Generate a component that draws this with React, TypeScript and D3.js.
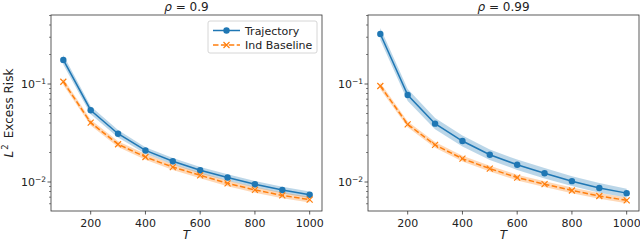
import { useEffect, useRef } from "react";
import * as d3 from "d3";

const T = [100, 200, 300, 400, 500, 600, 700, 800, 900, 1000];
const xTicks = [200, 400, 600, 800, 1000];
const titles = ["0.9", "0.99"];

// rho = 0.9
const traj09 = [0.176, 0.054, 0.0311, 0.021, 0.0163, 0.0132, 0.0111, 0.0095, 0.0083, 0.0074];
const ind09 = [0.1055, 0.0403, 0.0243, 0.018, 0.0142, 0.0117, 0.0097, 0.0083, 0.0073, 0.0066];
// rho = 0.99
const traj099 = [0.324, 0.0772, 0.0394, 0.0262, 0.019, 0.015, 0.0123, 0.0102, 0.0087, 0.0077];
const ind099 = [0.0954, 0.0388, 0.0239, 0.0173, 0.0137, 0.0111, 0.0095, 0.0082, 0.0072, 0.0065];

// multiplicative half-width of the shaded bands
const trajSpread09 = [1.12, 1.1, 1.09, 1.08, 1.08, 1.08, 1.08, 1.08, 1.08, 1.08];
const indSpread09 = [1.08, 1.07, 1.07, 1.07, 1.07, 1.07, 1.07, 1.07, 1.07, 1.07];
const trajSpread099 = [1.15, 1.15, 1.14, 1.14, 1.13, 1.13, 1.13, 1.12, 1.12, 1.11];
const indSpread099 = [1.08, 1.07, 1.07, 1.07, 1.07, 1.07, 1.07, 1.07, 1.07, 1.07];

const panels = [
  { title: titles[0], traj: traj09, ind: ind09, ts: trajSpread09, is: indSpread09 },
  { title: titles[1], traj: traj099, ind: ind099, ts: trajSpread099, is: indSpread099 },
];

const BLUE = "#1f77b4";
const ORANGE = "#ff7f0e";
const FONT = "DejaVu Sans, sans-serif";

const App = () => {
  const svgRef = useRef<SVGSVGElement>(null);

  useEffect(() => {
    const svg = d3.select(svgRef.current);
    svg.selectAll("*").remove();
    const width = 640;
    const height = 242;
    const top = 15;
    const bottom = 211;
    const lefts = [51, 368];
    const axW = 271;

    svg.append("rect").attr("width", width).attr("height", height).attr("fill", "#fff");

    panels.forEach((p, pi) => {
      const x0 = lefts[pi];
      const x = d3.scaleLinear().domain([55, 1045]).range([x0, x0 + axW]);
      const y = d3.scaleLog().domain([0.00506, 0.506]).range([bottom, top]);
      const g = svg.append("g");

      // bands
      const band = (vals: number[], spread: number[], color: string) => {
        const area = d3
          .area<number>()
          .x((_, i) => x(T[i]))
          .y0((d, i) => y(d / spread[i]))
          .y1((d, i) => y(d * spread[i]));
        g.append("path").datum(vals).attr("d", area).attr("fill", color).attr("opacity", 0.3);
      };
      band(p.traj, p.ts, BLUE);
      band(p.ind, p.is, ORANGE);

      const line = d3
        .line<number>()
        .x((_, i) => x(T[i]))
        .y((d) => y(d));

      g.append("path")
        .datum(p.traj)
        .attr("d", line)
        .attr("fill", "none")
        .attr("stroke", BLUE)
        .attr("stroke-width", 1.5);
      g.selectAll(".dot")
        .data(p.traj)
        .enter()
        .append("circle")
        .attr("cx", (_, i) => x(T[i]))
        .attr("cy", (d) => y(d))
        .attr("r", 3.2)
        .attr("fill", BLUE);

      g.append("path")
        .datum(p.ind)
        .attr("d", line)
        .attr("fill", "none")
        .attr("stroke", ORANGE)
        .attr("stroke-width", 1.5)
        .attr("stroke-dasharray", "5.5,2.4");
      const s = 3;
      p.ind.forEach((d, i) => {
        const cx = x(T[i]);
        const cy = y(d);
        g.append("path")
          .attr("d", `M${cx - s},${cy - s}L${cx + s},${cy + s}M${cx - s},${cy + s}L${cx + s},${cy - s}`)
          .attr("stroke", ORANGE)
          .attr("stroke-width", 1.2);
      });

      // x axis
      const xa = g.append("g").attr("font-family", FONT).attr("font-size", 11);
      xTicks.forEach((t) => {
        xa.append("line")
          .attr("x1", x(t)).attr("x2", x(t))
          .attr("y1", bottom).attr("y2", bottom + 3.5)
          .attr("stroke", "#333").attr("stroke-width", 0.8);
        xa.append("text")
          .attr("x", x(t)).attr("y", bottom + 16)
          .attr("text-anchor", "middle").attr("fill", "#222")
          .text(t);
      });
      g.append("text")
        .attr("x", x0 + axW / 2).attr("y", 239)
        .attr("text-anchor", "middle")
        .attr("font-family", FONT).attr("font-size", 12).attr("font-style", "italic")
        .attr("fill", "#222")
        .text("T");

      // y axis (log)
      const [ymin, ymax] = y.domain();
      for (let e = -3; e <= 0; e++) {
        for (let m = 1; m <= 9; m++) {
          const v = m * Math.pow(10, e);
          if (v < ymin || v > ymax) continue;
          const major = m === 1;
          g.append("line")
            .attr("x1", x0).attr("x2", x0 - (major ? 3.5 : 2))
            .attr("y1", y(v)).attr("y2", y(v))
            .attr("stroke", "#333").attr("stroke-width", major ? 0.8 : 0.6);
          if (major) {
            const tx = g.append("text")
              .attr("x", x0 - 5).attr("y", y(v) + 4)
              .attr("text-anchor", "end")
              .attr("font-family", FONT).attr("font-size", 11).attr("fill", "#222");
            tx.append("tspan").text("10");
            tx.append("tspan").attr("dy", -4.5).attr("font-size", 7.5).text(`\u2212${-e}`);
          }
        }
      }

      // frame
      g.append("rect")
        .attr("x", x0).attr("y", top)
        .attr("width", axW).attr("height", bottom - top)
        .attr("fill", "none").attr("stroke", "#333").attr("stroke-width", 0.8);

      // title
      const tt = g.append("text")
        .attr("x", x0 + axW / 2).attr("y", 10.5)
        .attr("text-anchor", "middle")
        .attr("font-family", FONT).attr("font-size", 12).attr("fill", "#222");
      tt.append("tspan").attr("font-style", "italic").text("\u03c1");
      tt.append("tspan").text(` = ${p.title}`);

      // legend on first panel
      if (pi === 0) {
        const lg = g.append("g");
        lg.append("rect")
          .attr("x", 208).attr("y", 21).attr("width", 109).attr("height", 32)
          .attr("rx", 2).attr("fill", "#fff").attr("fill-opacity", 0.8)
          .attr("stroke", "#ccc").attr("stroke-width", 0.8);
        lg.append("line").attr("x1", 213).attr("x2", 240).attr("y1", 30.5).attr("y2", 30.5)
          .attr("stroke", BLUE).attr("stroke-width", 1.5);
        lg.append("circle").attr("cx", 226.5).attr("cy", 30.5).attr("r", 3.2).attr("fill", BLUE);
        lg.append("line").attr("x1", 213).attr("x2", 240).attr("y1", 45).attr("y2", 45)
          .attr("stroke", ORANGE).attr("stroke-width", 1.5).attr("stroke-dasharray", "5.5,2.4");
        lg.append("path")
          .attr("d", `M${226.5 - s},${45 - s}L${226.5 + s},${45 + s}M${226.5 - s},${45 + s}L${226.5 + s},${45 - s}`)
          .attr("stroke", ORANGE).attr("stroke-width", 1.2);
        lg.append("text").attr("x", 245).attr("y", 34.5)
          .attr("font-family", FONT).attr("font-size", 11).attr("fill", "#222").text("Trajectory");
        lg.append("text").attr("x", 245).attr("y", 49)
          .attr("font-family", FONT).attr("font-size", 11).attr("fill", "#222").text("Ind Baseline");
      }
    });

    // shared y label
    const yl = svg.append("text")
      .attr("transform", `translate(12.5,113) rotate(-90)`)
      .attr("text-anchor", "middle")
      .attr("font-family", FONT).attr("font-size", 12).attr("fill", "#222");
    yl.append("tspan").attr("font-style", "italic").text("L");
    yl.append("tspan").attr("dy", -5).attr("dx", 1).attr("font-size", 8.5).text("2");
    yl.append("tspan").attr("dy", 5).text("\u2002Excess Risk");
  }, []);

  return (
    <div style={{ position: "absolute", left: 0, top: 0 }}>
      <svg ref={svgRef} width={640} height={242} style={{ display: "block" }}></svg>
    </div>
  );
};

export default App;
